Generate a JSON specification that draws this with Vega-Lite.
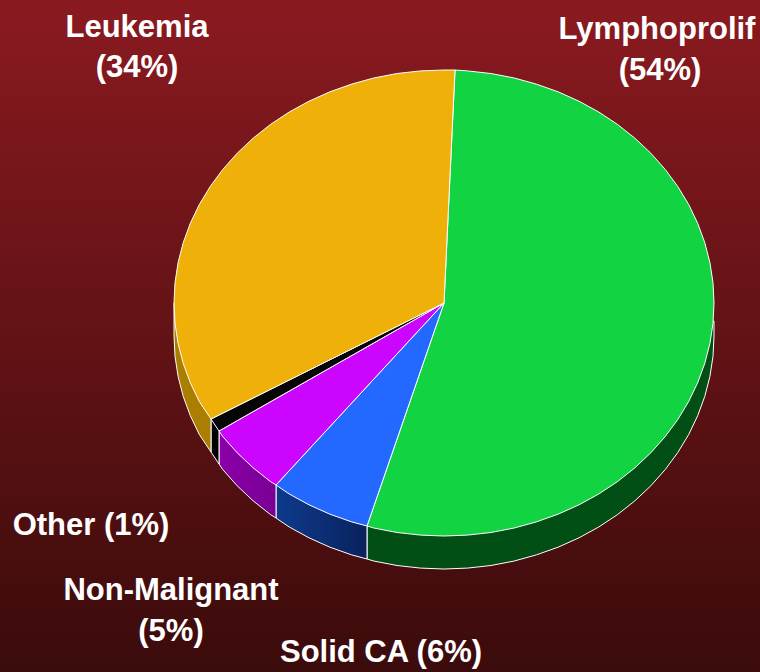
{"$schema":"https://vega.github.io/schema/vega-lite/v6.json","width":760,"height":672,"padding":0,"autosize":"none","background":"#3b0b0b","config":{"view":{"stroke":null}},
"datasets":{"walls":[
{"p":"wgreen","x":714,"y":321},{"p":"wgreen","x":714,"y":336},{"p":"wgreen","x":713,"y":356.3},{"p":"wgreen","x":709.9,"y":376.5},{"p":"wgreen","x":704.8,"y":396.3},{"p":"wgreen","x":697.7,"y":415.7},{"p":"wgreen","x":688.7,"y":434.5},{"p":"wgreen","x":677.8,"y":452.5},{"p":"wgreen","x":665.2,"y":469.6},{"p":"wgreen","x":650.8,"y":485.8},{"p":"wgreen","x":634.9,"y":500.8},{"p":"wgreen","x":617.6,"y":514.5},{"p":"wgreen","x":598.9,"y":526.9},{"p":"wgreen","x":579,"y":537.8},{"p":"wgreen","x":558.1,"y":547.2},{"p":"wgreen","x":536.3,"y":554.9},{"p":"wgreen","x":513.9,"y":561.1},{"p":"wgreen","x":490.9,"y":565.5},{"p":"wgreen","x":467.5,"y":568.1},{"p":"wgreen","x":444,"y":569},{"p":"wgreen","x":420.5,"y":568.1},{"p":"wgreen","x":397.1,"y":565.5},{"p":"wgreen","x":374.1,"y":561.1},{"p":"wgreen","x":367,"y":559},{"p":"wgreen","x":367,"y":526},{"p":"wgreen","x":444,"y":303},
{"p":"wblue","x":367,"y":559},{"p":"wblue","x":351.7,"y":554.9},{"p":"wblue","x":329.9,"y":547.2},{"p":"wblue","x":309,"y":537.8},{"p":"wblue","x":289.1,"y":526.9},{"p":"wblue","x":276,"y":518},{"p":"wblue","x":276,"y":485},{"p":"wblue","x":444,"y":303},{"p":"wblue","x":367,"y":526},
{"p":"wpurple","x":276,"y":518},{"p":"wpurple","x":270.4,"y":514.5},{"p":"wpurple","x":253.1,"y":500.8},{"p":"wpurple","x":237.2,"y":485.8},{"p":"wpurple","x":222.8,"y":469.6},{"p":"wpurple","x":219,"y":464},{"p":"wpurple","x":219,"y":431},{"p":"wpurple","x":444,"y":303},{"p":"wpurple","x":276,"y":485},
{"p":"wblack","x":219,"y":464},{"p":"wblack","x":211,"y":452},{"p":"wblack","x":211,"y":419},{"p":"wblack","x":444,"y":303},{"p":"wblack","x":219,"y":431},
{"p":"worange","x":211,"y":452},{"p":"worange","x":199.3,"y":434.5},{"p":"worange","x":190.3,"y":415.7},{"p":"worange","x":183.2,"y":396.3},{"p":"worange","x":178.1,"y":376.5},{"p":"worange","x":175,"y":356.3},{"p":"worange","x":174,"y":336},{"p":"worange","x":174,"y":303},{"p":"worange","x":444,"y":303},{"p":"worange","x":211,"y":419}
],
"slices":[
{"p":"Lymphoprolif","x":444,"y":303},{"p":"Lymphoprolif","x":455,"y":70},{"p":"Lymphoprolif","x":467.5,"y":70.9},{"p":"Lymphoprolif","x":490.9,"y":73.5},{"p":"Lymphoprolif","x":513.9,"y":77.9},{"p":"Lymphoprolif","x":536.3,"y":84.1},{"p":"Lymphoprolif","x":558.1,"y":91.8},{"p":"Lymphoprolif","x":579,"y":101.2},{"p":"Lymphoprolif","x":598.9,"y":112.1},{"p":"Lymphoprolif","x":617.6,"y":124.5},{"p":"Lymphoprolif","x":634.9,"y":138.2},{"p":"Lymphoprolif","x":650.8,"y":153.2},{"p":"Lymphoprolif","x":665.2,"y":169.4},{"p":"Lymphoprolif","x":677.8,"y":186.5},{"p":"Lymphoprolif","x":688.7,"y":204.5},{"p":"Lymphoprolif","x":697.7,"y":223.3},{"p":"Lymphoprolif","x":704.8,"y":242.7},{"p":"Lymphoprolif","x":709.9,"y":262.5},{"p":"Lymphoprolif","x":713,"y":282.7},{"p":"Lymphoprolif","x":714,"y":303},{"p":"Lymphoprolif","x":713,"y":323.3},{"p":"Lymphoprolif","x":709.9,"y":343.5},{"p":"Lymphoprolif","x":704.8,"y":363.3},{"p":"Lymphoprolif","x":697.7,"y":382.7},{"p":"Lymphoprolif","x":688.7,"y":401.5},{"p":"Lymphoprolif","x":677.8,"y":419.5},{"p":"Lymphoprolif","x":665.2,"y":436.6},{"p":"Lymphoprolif","x":650.8,"y":452.8},{"p":"Lymphoprolif","x":634.9,"y":467.8},{"p":"Lymphoprolif","x":617.6,"y":481.5},{"p":"Lymphoprolif","x":598.9,"y":493.9},{"p":"Lymphoprolif","x":579,"y":504.8},{"p":"Lymphoprolif","x":558.1,"y":514.2},{"p":"Lymphoprolif","x":536.3,"y":521.9},{"p":"Lymphoprolif","x":513.9,"y":528.1},{"p":"Lymphoprolif","x":490.9,"y":532.5},{"p":"Lymphoprolif","x":467.5,"y":535.1},{"p":"Lymphoprolif","x":444,"y":536},{"p":"Lymphoprolif","x":420.5,"y":535.1},{"p":"Lymphoprolif","x":397.1,"y":532.5},{"p":"Lymphoprolif","x":374.1,"y":528.1},{"p":"Lymphoprolif","x":367,"y":526},
{"p":"Solid CA","x":444,"y":303},{"p":"Solid CA","x":367,"y":526},{"p":"Solid CA","x":351.7,"y":521.9},{"p":"Solid CA","x":329.9,"y":514.2},{"p":"Solid CA","x":309,"y":504.8},{"p":"Solid CA","x":289.1,"y":493.9},{"p":"Solid CA","x":276,"y":485},
{"p":"Non-Malignant","x":444,"y":303},{"p":"Non-Malignant","x":276,"y":485},{"p":"Non-Malignant","x":270.4,"y":481.5},{"p":"Non-Malignant","x":253.1,"y":467.8},{"p":"Non-Malignant","x":237.2,"y":452.8},{"p":"Non-Malignant","x":222.8,"y":436.6},{"p":"Non-Malignant","x":219,"y":431},
{"p":"Other","x":444,"y":303},{"p":"Other","x":219,"y":431},{"p":"Other","x":211,"y":419},
{"p":"Leukemia","x":444,"y":303},{"p":"Leukemia","x":211,"y":419},{"p":"Leukemia","x":199.3,"y":401.5},{"p":"Leukemia","x":190.3,"y":382.7},{"p":"Leukemia","x":183.2,"y":363.3},{"p":"Leukemia","x":178.1,"y":343.5},{"p":"Leukemia","x":175,"y":323.3},{"p":"Leukemia","x":174,"y":303},{"p":"Leukemia","x":175,"y":282.7},{"p":"Leukemia","x":178.1,"y":262.5},{"p":"Leukemia","x":183.2,"y":242.7},{"p":"Leukemia","x":190.3,"y":223.3},{"p":"Leukemia","x":199.3,"y":204.5},{"p":"Leukemia","x":210.2,"y":186.5},{"p":"Leukemia","x":222.8,"y":169.4},{"p":"Leukemia","x":237.2,"y":153.2},{"p":"Leukemia","x":253.1,"y":138.2},{"p":"Leukemia","x":270.4,"y":124.5},{"p":"Leukemia","x":289.1,"y":112.1},{"p":"Leukemia","x":309,"y":101.2},{"p":"Leukemia","x":329.9,"y":91.8},{"p":"Leukemia","x":351.7,"y":84.1},{"p":"Leukemia","x":374.1,"y":77.9},{"p":"Leukemia","x":397.1,"y":73.5},{"p":"Leukemia","x":420.5,"y":70.9},{"p":"Leukemia","x":444,"y":70},{"p":"Leukemia","x":455,"y":70}
],
"labels":[
{"t":"Leukemia","x":137,"y":37},{"t":"(34%)","x":137,"y":77},{"t":"Lymphoprolif","x":657,"y":39},{"t":"(54%)","x":660,"y":80},{"t":"Other (1%)","x":91,"y":535},{"t":"Non-Malignant","x":171,"y":600},{"t":"(5%)","x":171,"y":641},{"t":"Solid CA (6%)","x":381,"y":662}
]},
"encoding":{"x":{"field":"x","type":"quantitative","axis":null,"scale":{"domain":[0,760],"nice":false,"zero":false}},"y":{"field":"y","type":"quantitative","axis":null,"scale":{"domain":[672,0],"nice":false,"zero":false}}},
"layer":[
{"data":{"values":[{"name":"background"}]},"mark":{"type":"rect","color":{"gradient":"linear","x1":0,"y1":0,"x2":0,"y2":1,"stops":[{"offset":0,"color":"#8a1a20"},{"offset":1,"color":"#3b0b0b"}]}},"encoding":{"x":{"value":0},"x2":{"value":760},"y":{"value":0},"y2":{"value":672}}},
{"data":{"name":"walls"},"transform":[{"filter":"datum.p=='wgreen'"}],"mark":{"type":"line","interpolate":"linear-closed","fill":"#024f16","stroke":"#ffffff","strokeWidth":1},"encoding":{"order":{"value":null}}},
{"data":{"name":"walls"},"transform":[{"filter":"datum.p=='wblue'"}],"mark":{"type":"line","interpolate":"linear-closed","fill":{"gradient":"linear","x1":0,"y1":0,"x2":1,"y2":0,"stops":[{"offset":0,"color":"#0e3a8c"},{"offset":0.5,"color":"#0a2460"},{"offset":1,"color":"#0a2460"}]},"stroke":"#ffffff","strokeWidth":1},"encoding":{"order":{"value":null}}},
{"data":{"name":"walls"},"transform":[{"filter":"datum.p=='wpurple'"}],"mark":{"type":"line","interpolate":"linear-closed","fill":{"gradient":"linear","x1":0,"y1":0,"x2":1,"y2":0,"stops":[{"offset":0,"color":"#8a00a8"},{"offset":0.5,"color":"#680080"},{"offset":1,"color":"#680080"}]},"stroke":"#ffffff","strokeWidth":1},"encoding":{"order":{"value":null}}},
{"data":{"name":"walls"},"transform":[{"filter":"datum.p=='wblack'"}],"mark":{"type":"line","interpolate":"linear-closed","fill":"#000000","stroke":"#ffffff","strokeWidth":1},"encoding":{"order":{"value":null}}},
{"data":{"name":"walls"},"transform":[{"filter":"datum.p=='worange'"}],"mark":{"type":"line","interpolate":"linear-closed","fill":"#ab7e00","stroke":"#ffffff","strokeWidth":1},"encoding":{"order":{"value":null}}},
{"data":{"name":"slices"},"mark":{"type":"line","interpolate":"linear-closed","stroke":"#ffffff","strokeWidth":1},"encoding":{"order":{"value":null},"fill":{"field":"p","type":"nominal","legend":null,"scale":{"domain":["Lymphoprolif","Solid CA","Non-Malignant","Other","Leukemia"],"range":["#12d443","#2469ff","#cc05ff","#050505","#f0b00a"]}}}},
{"data":{"name":"labels"},"mark":{"type":"text","font":"Liberation Sans","fontWeight":"bold","fontSize":31,"color":"#ffffff","align":"center","baseline":"alphabetic"},"encoding":{"text":{"field":"t","type":"nominal"}}}
]}
